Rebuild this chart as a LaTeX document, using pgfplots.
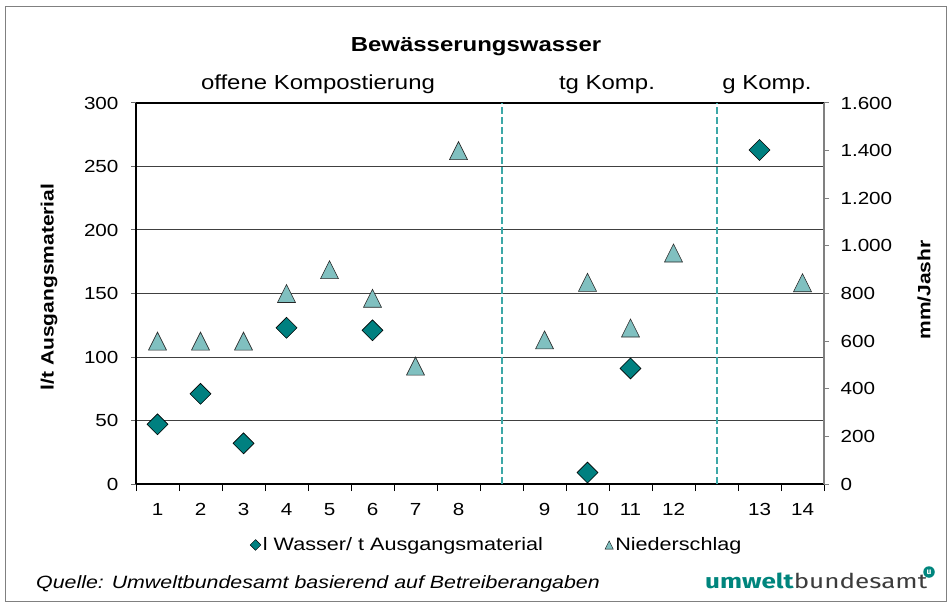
\documentclass[border=0pt]{standalone}
\usepackage{pgfplots}
\pgfplotsset{compat=1.18}
\usepackage{pgfplotstable}
\usepackage{fontspec}
\setmainfont{Liberation Sans}
\newfontfamily\logofont{Fira Sans}
\usepackage{graphicx}
\newcommand\sx[1]{\scalebox{1.18}[1]{#1}}
\definecolor{dteal}{RGB}{0,128,128}
\definecolor{lteal}{RGB}{128,192,192}
\definecolor{dashteal}{RGB}{60,168,168}
\definecolor{logoteal}{RGB}{0,133,125}
\definecolor{logogray}{RGB}{60,60,60}
\definecolor{axgray}{RGB}{128,128,128}
\newcommand\tfont{\fontsize{17.5}{20}\selectfont}

\pgfplotstableread{
x y
1 47
2 71
3 32
4 123
6 121
11 9
12 91
15 263
}\wasser
\pgfplotstableread{
x y
1 600
2 600
3 600
4 800
5 900
6 780
7 495
8 1400
10 605
11 847
12 655
13 970
16 845
}\nieder

\begin{document}
\begin{tikzpicture}
\path (0pt,0pt) rectangle (952pt,608pt);
\draw[axgray, line width=1pt] (5.5pt,6.5pt) rectangle (946.5pt,601.5pt);

\begin{axis}[
  at={(136pt,124pt)}, anchor=south west,
  scale only axis, width=688pt, height=381pt,
  xmin=0.5, xmax=16.5, ymin=0, ymax=300,
  axis x line*=bottom, axis y line*=left,
  x axis line style={-, line width=1.6pt, black},
  y axis line style={-, line width=1.6pt, black},
  xtick={1,2,3,4,5,6,7,8,10,11,12,13,15,16},
  xticklabels={\sx{1},\sx{2},\sx{3},\sx{4},\sx{5},\sx{6},\sx{7},\sx{8},\sx{9},\sx{10},\sx{11},\sx{12},\sx{13},\sx{14}},
  major x tick style={draw=none},
  minor xtick={0.5,1.5,...,16.5},
  minor x tick style={black, line width=1pt},
  minor tick length=7pt,
  ytick={0,50,...,300},
  yticklabel={\sx{\pgfmathprintnumber{\tick}}},
  major y tick style={black!60, line width=1pt},
  major tick length=5pt,
  tick align=outside,
  ymajorgrids, grid style={black!75, line width=1pt},
  extra y ticks={300}, extra y tick labels={},
  extra y tick style={major tick length=0pt, grid style={black, line width=1.5pt}},
  tick label style={font=\tfont},
  /pgf/number format/assume math mode=true,
  xticklabel shift=11pt, yticklabel shift=9pt,
  clip=false,
]
\addplot[dashteal, line width=2pt, dash pattern=on 7pt off 3pt] coordinates {(9,0) (9,300)};
\addplot[dashteal, line width=2pt, dash pattern=on 7pt off 3pt] coordinates {(14,0) (14,300)};
\addplot[only marks, mark=square*, mark size=7.4pt,
  mark options={rotate=45, fill=dteal, draw=black, line width=0.6pt}] table[x=x,y=y]{\wasser};
\end{axis}

\begin{axis}[
  at={(136pt,124pt)}, anchor=south west,
  scale only axis, width=688pt, height=381pt,
  xmin=0.5, xmax=16.5, ymin=0, ymax=1600,
  axis x line=none, axis y line*=right,
  y axis line style={-, line width=1.6pt, axgray},
  ytick={0,200,...,1600},
  yticklabel={\sx{\pgfmathprintnumber{\tick}}},
  major y tick style={axgray, line width=1pt},
  major tick length=5pt,
  tick align=outside,
  tick label style={font=\tfont},
  /pgf/number format/assume math mode=true,
  /pgf/number format/1000 sep={.},
  yticklabel shift=8pt,
  clip=false,
  legend columns=2,
  legend style={draw=none, fill=none, at={(rel axis cs:0.1657,-0.160)}, anchor=west,
    inner sep=0pt, font=\fontsize{18}{20}\selectfont,
    /tikz/every even column/.append style={column sep=60pt}},
]
\addlegendimage{legend image code/.code={\draw[only marks, mark=square*, mark size=3.8pt, mark options={rotate=45, fill=dteal, draw=black, line width=0.4pt}] plot coordinates {(0pt,0pt)};}}
\addlegendentry{\scalebox{1.2}[1]{l Wasser/ t Ausgangsmaterial}}
\addplot[only marks, mark=triangle*, mark size=12pt,
  mark options={xscale=0.866, yshift=-3pt, fill=lteal, draw=black!85, line width=0.6pt},
  legend image code/.code={\draw[only marks, mark=triangle*, mark size=5.5pt, mark options={xscale=0.866, yshift=-1.4pt, fill=lteal, draw=black, line width=0.4pt}] plot coordinates {(0pt,0pt)};}]
  table[x=x,y=y]{\nieder};
\addlegendentry{\scalebox{1.2}[1]{Niederschlag}}
\end{axis}

\node[anchor=base, font=\bfseries\fontsize{20.3}{24}\selectfont] at (476pt,556pt) {\sx{Bewässerungswasser}};
\node[anchor=base, font=\fontsize{20.3}{24}\selectfont] at (318pt,518pt) {\sx{offene Kompostierung}};
\node[anchor=base, font=\fontsize{20.3}{24}\selectfont] at (607pt,518pt) {\sx{tg Komp.}};
\node[anchor=base, font=\fontsize{20.3}{24}\selectfont] at (767pt,518pt) {\sx{g Komp.}};
\node[rotate=90, font=\bfseries\fontsize{17.8}{20}\selectfont] at (49pt,321pt) {\sx{l/t Ausgangsmaterial}};
\node[rotate=90, font=\bfseries\fontsize{17.8}{20}\selectfont] at (924pt,318pt) {\sx{mm/Jashr}};
\node[anchor=base west, inner sep=0pt, font=\itshape\fontsize{17.8}{20}\selectfont] at (36pt,20pt) {\scalebox{1.2}[1]{Quelle: Umweltbundesamt basierend auf Betreiberangaben}};
\node[anchor=base west, inner sep=0pt, font=\logofont\fontsize{20.5}{24}\selectfont] at (705pt,20pt)
  {\scalebox{1.27}[1]{\textcolor{logoteal}{\bfseries umwelt}\textcolor{logogray}{bundesamt}}};
\node[circle, fill=logoteal, inner sep=0pt, minimum size=11.5pt, text=white, font=\logofont\bfseries\fontsize{8.5}{8.5}\selectfont] at (929pt,36pt) {u};
\end{tikzpicture}
\end{document}
